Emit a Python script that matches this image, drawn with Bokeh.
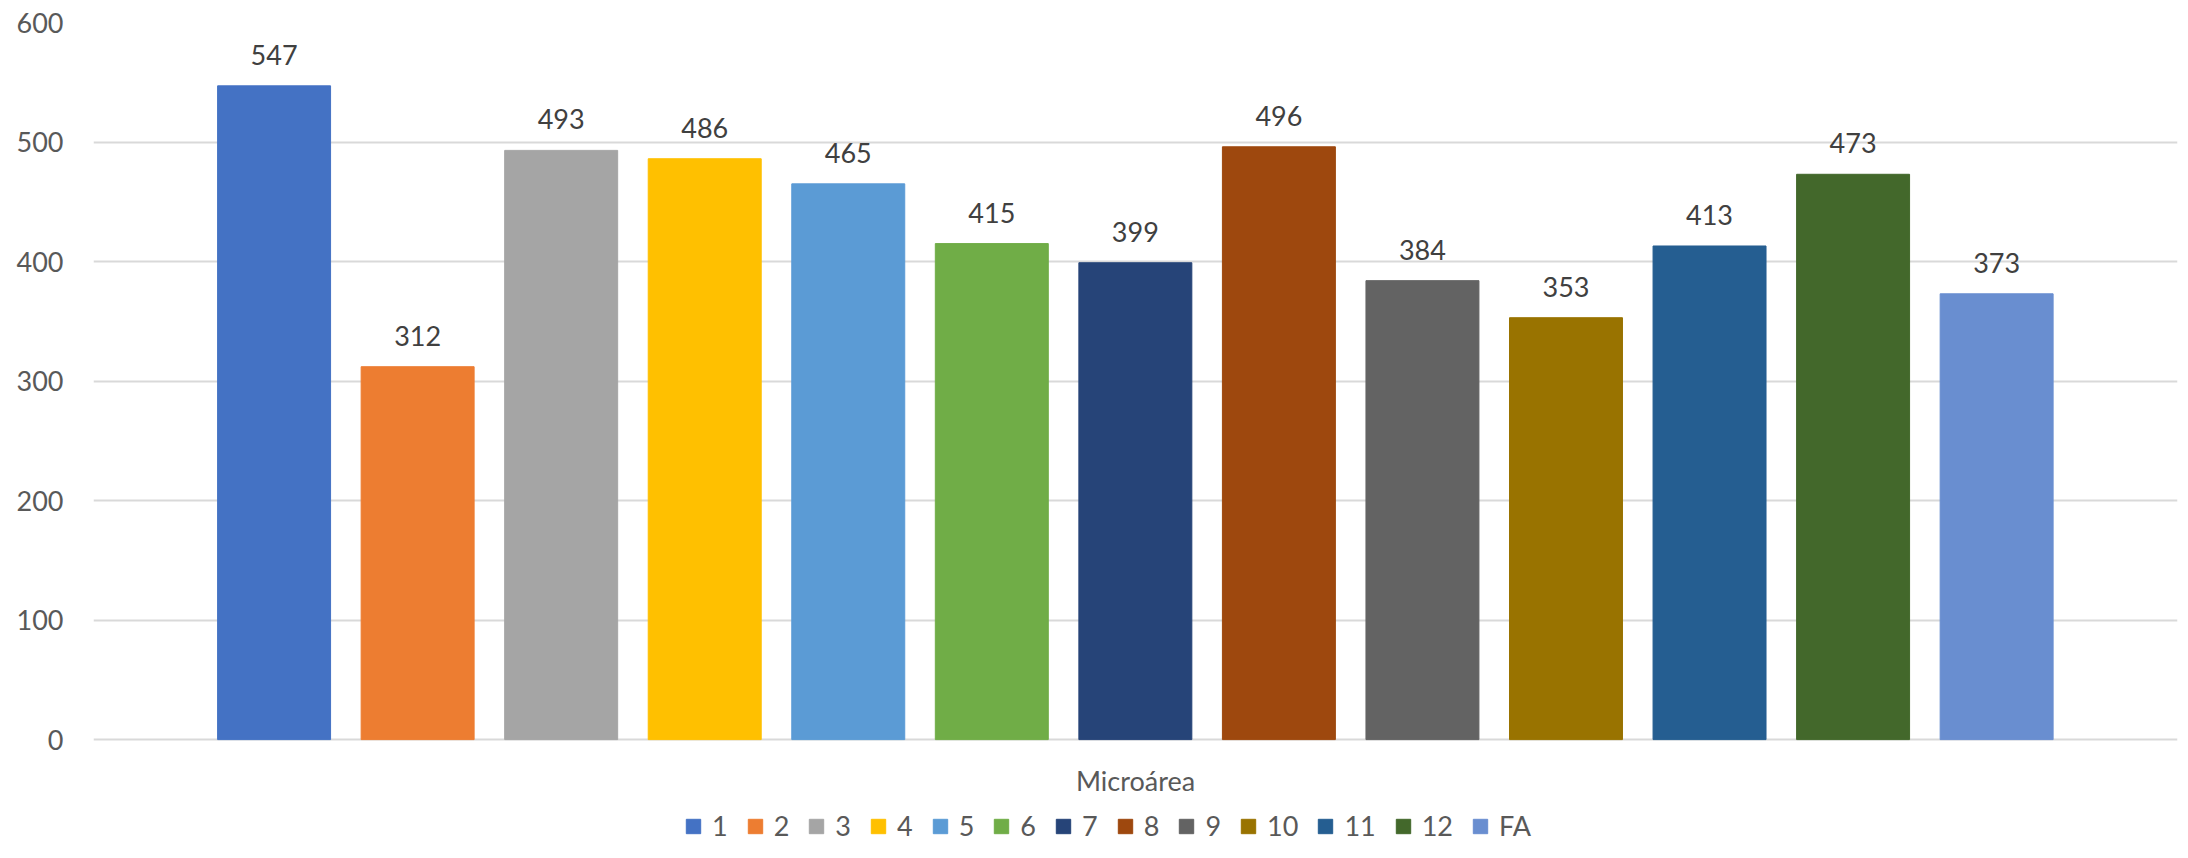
from bokeh.plotting import figure
from bokeh.models import ColumnDataSource, Range1d, FixedTicker, Legend, LegendItem
from bokeh.core.properties import value
from bokeh.embed import file_html
from bokeh.resources import INLINE

labels = ["1", "2", "3", "4", "5", "6", "7", "8", "9", "10", "11", "12", "FA"]
values = [547, 312, 493, 486, 465, 415, 399, 496, 384, 353, 413, 473, 373]
colors = ["#4472C4", "#ED7D31", "#A5A5A5", "#FFC000", "#5B9BD5", "#70AD47",
          "#264478", "#9E480E", "#636363", "#997300", "#255E91", "#43682B", "#698ED0"]
y_ticks = [0, 100, 200, 300, 400, 500, 600]
x_title = "Microárea"

FONT = "Lato"
FS = "27px"

# frame spans from the 600 gridline down to the canvas bottom
# 100 units = 119.6 px; area below zero holds the axis title and legend
Y_MIN = -86.1
X_MIN, X_MAX = -0.258, 14.26

xs = list(range(1, len(labels) + 1))
src = ColumnDataSource(dict(x=xs, top=values, color=colors, label=labels,
                            txt=[str(v) for v in values]))

p = figure(width=2180, height=842, output_backend="svg", toolbar_location=None,
           x_range=Range1d(X_MIN, X_MAX), y_range=Range1d(Y_MIN, 600),
           min_border_left=93, min_border_right=3, min_border_top=22,
           min_border_bottom=0)
p.outline_line_color = None
p.background_fill_color = "white"
p.border_fill_color = "white"

r = p.vbar(x="x", top="top", bottom=0, width=0.787, color="color", source=src)

p.text(x="x", y="top", text="txt", source=src, text_align="center",
       text_baseline="alphabetic", y_offset=-31, text_color="#404040",
       text_font=value(FONT), text_font_size=FS)

# axis title under the bars
p.text(x=[(X_MIN + X_MAX) / 2], y=[-34.3], text=[x_title], text_align="center",
       text_baseline="middle", text_color="#595959",
       text_font=value(FONT), text_font_size=FS)

# grid
p.xgrid.grid_line_color = None
p.ygrid.grid_line_color = "#D9D9D9"
p.ygrid.grid_line_width = 2
p.yaxis.ticker = FixedTicker(ticks=y_ticks)

# y axis
ya = p.yaxis[0]
ya.axis_line_color = None
ya.major_tick_line_color = None
ya.minor_tick_line_color = None
ya.major_tick_in = 0
ya.major_tick_out = 0
ya.major_label_standoff = 30
ya.major_label_text_font = FONT
ya.major_label_text_font_size = FS
ya.major_label_text_color = "#595959"

p.xaxis.visible = False

legend = Legend(items=[LegendItem(label=l, renderers=[r], index=i) for i, l in enumerate(labels)],
                location=(591, 0), orientation="horizontal",
                border_line_color=None, background_fill_alpha=0,
                label_text_font=FONT, label_text_font_size=FS,
                label_text_color="#595959", glyph_width=18, glyph_height=18,
                label_standoff=10, label_width=0, spacing=18, padding=0, margin=0)
p.add_layout(legend, "center")

open("out.html", "w").write(file_html(p, INLINE))
